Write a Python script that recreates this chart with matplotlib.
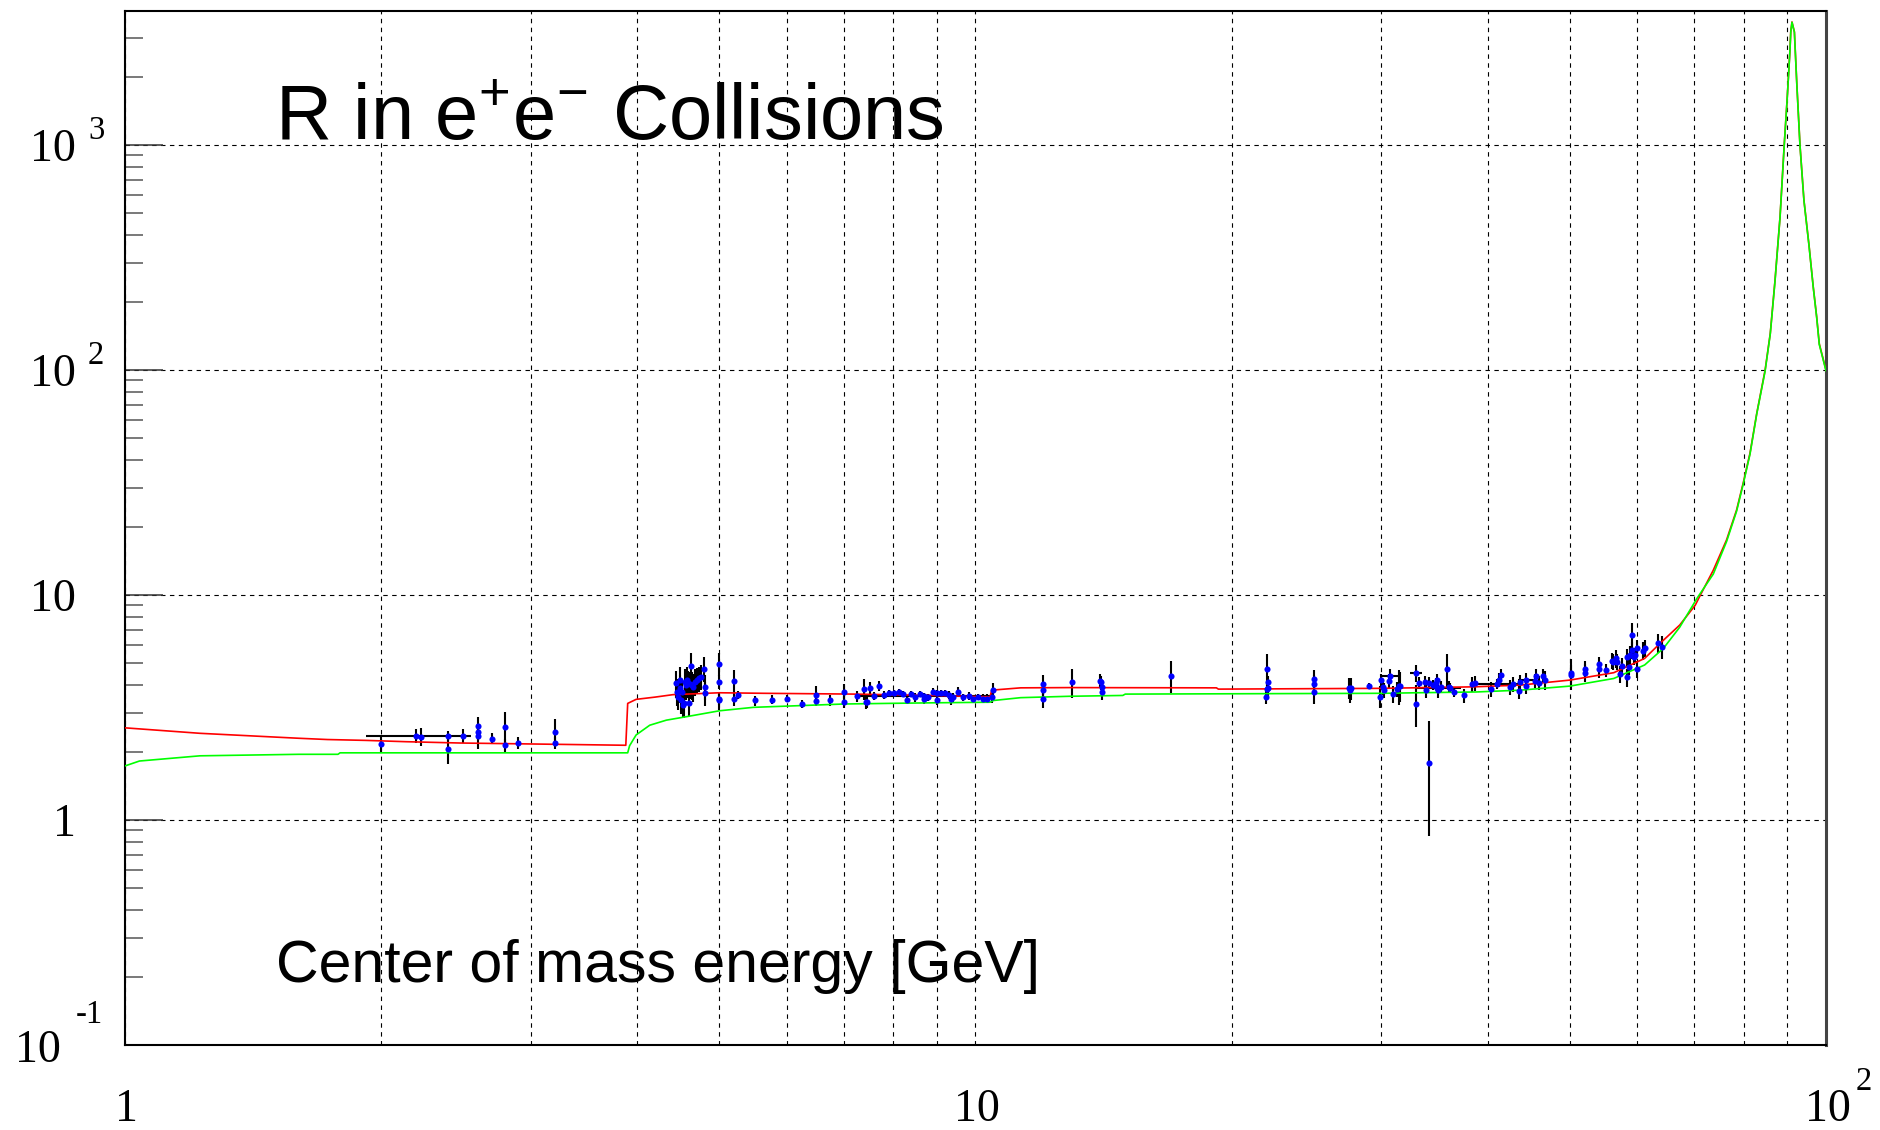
import matplotlib
matplotlib.use("Agg")
import matplotlib.pyplot as plt
from matplotlib.transforms import blended_transform_factory
from matplotlib.ticker import LogLocator, NullFormatter

# ---------------- data ----------------
# measured R values (energy GeV, R, error)
E_pts = [2.00, 2.23, 2.40, 2.40, 2.50, 2.60, 2.60, 2.60, 2.70, 2.80, 2.80, 2.90, 3.20, 3.20,
         4.44, 4.46, 4.47, 4.49, 4.49, 4.51, 4.52, 4.53, 4.54, 4.55, 4.57, 4.58, 4.59, 4.60,
         4.62, 4.63, 4.64, 4.66, 4.68, 4.70, 4.73, 4.76, 4.80, 4.81, 4.81,
         5.00, 5.00, 5.00, 5.00, 5.20, 5.20, 5.26, 5.51, 5.76, 6.00, 6.25, 6.50, 6.50, 6.75,
         7.00, 7.00, 7.25, 7.40, 7.43, 7.46, 7.51, 7.60, 7.71, 7.81, 7.92, 8.01, 8.12, 8.21,
         8.30, 8.40, 8.50, 8.60, 8.70, 8.80, 8.91, 9.00, 9.01, 9.11, 9.21, 9.31, 9.35, 9.40,
         9.53, 9.68, 9.82, 9.92, 10.08, 10.21, 10.31, 10.45, 10.49,
         12.0, 12.0, 12.0, 13.0, 14.0, 14.05, 14.07, 14.07, 17.0,
         22.0, 22.05, 22.05, 22.0, 21.95, 25.0, 25.0, 25.0, 27.5, 27.65, 27.6, 29.0, 29.9,
         30.0, 30.1, 30.2, 30.6, 31.0, 31.3, 31.5, 31.6, 33.0, 33.2, 33.8, 33.9, 34.1, 34.1,
         34.5, 34.8, 34.9, 35.0, 35.3, 35.8, 36.0, 36.1, 36.5, 37.5, 38.4, 38.7, 40.4, 41.3,
         41.5, 42.5, 42.9, 43.5, 43.7, 44.4, 45.5, 45.6, 46.0, 46.5, 46.7,
         50.1, 50.1, 52.1, 52.1, 54.1, 54.1, 55.1, 56.0, 56.2, 56.6, 56.8, 57.3, 57.5, 58.3,
         58.4, 58.6, 58.9, 59.1, 59.1, 59.4, 59.6, 60.0, 60.0, 60.9, 61.3, 63.5, 64.2]
R_pts = [2.18, 2.35, 2.37, 2.06, 2.37, 2.62, 2.46, 2.37, 2.30, 2.60, 2.15, 2.20, 2.46, 2.20,
         4.05, 3.72, 3.53, 3.85, 4.19, 3.42, 3.69, 3.24, 3.30, 4.12, 3.98, 4.19, 4.05, 3.30,
         4.01, 4.85, 3.98, 3.91, 4.12, 4.19, 4.26, 4.34, 4.69, 3.91, 3.66,
         4.95, 4.11, 3.45, 3.40, 4.16, 3.45, 3.59, 3.40, 3.43, 3.47, 3.28, 3.59, 3.37, 3.40,
         3.72, 3.35, 3.56, 3.82, 3.36, 3.36, 3.87, 3.56, 3.94, 3.59, 3.66, 3.68, 3.72, 3.63,
         3.42, 3.63, 3.51, 3.63, 3.44, 3.51, 3.72, 3.68, 3.40, 3.68, 3.66, 3.59, 3.44, 3.51,
         3.72, 3.51, 3.56, 3.45, 3.53, 3.47, 3.47, 3.51, 3.78,
         4.01, 3.78, 3.45, 4.09, 4.15, 4.09, 3.91, 3.72, 4.38,
         4.69, 4.09, 3.87, 3.82, 3.54, 4.23, 4.01, 3.72, 3.87, 3.85, 3.78, 3.95, 3.54,
         4.18, 3.91, 3.78, 4.15, 3.63, 3.81, 3.95, 3.95, 3.28, 4.06, 4.12, 3.78, 4.06, 1.80,
         3.98, 4.05, 4.19, 3.78, 3.91, 4.69, 3.91, 3.88, 3.72, 3.58, 4.01, 4.05, 3.82, 4.19,
         4.41, 3.89, 4.02, 3.74, 4.12, 3.94, 4.15, 4.37, 4.08, 4.38, 4.19,
         4.49, 4.41, 4.67, 4.52, 4.93, 4.67, 4.64, 5.11, 5.05, 5.23, 5.05, 4.46, 4.84, 5.28,
         4.31, 4.80, 5.41, 6.64, 5.69, 5.28, 5.41, 4.67, 5.83, 5.66, 5.83, 6.14, 5.89]
dR_pts = [0.20, 0.21, 0.13, 0.28, 0.16, 0.24, 0.20, 0.30, 0.13, 0.43, 0.14, 0.14, 0.34, 0.14,
          0.55, 0.50, 0.45, 0.55, 0.60, 0.45, 0.50, 0.40, 0.45, 0.55, 0.55, 0.60, 0.55, 0.40,
          0.55, 0.70, 0.55, 0.55, 0.55, 0.55, 0.55, 0.55, 0.60, 0.50, 0.45,
          0.60, 0.30, 0.20, 0.30, 0.50, 0.25, 0.15, 0.17, 0.15, 0.12, 0.12, 0.35, 0.15, 0.18,
          0.30, 0.20, 0.20, 0.40, 0.25, 0.20, 0.25, 0.15, 0.20, 0.15, 0.12, 0.12, 0.12, 0.12,
          0.15, 0.12, 0.15, 0.12, 0.15, 0.12, 0.15, 0.12, 0.15, 0.12, 0.12, 0.15, 0.20, 0.15,
          0.20, 0.12, 0.15, 0.12, 0.12, 0.15, 0.15, 0.20, 0.30,
          0.40, 0.30, 0.30, 0.60, 0.30, 0.30, 0.30, 0.30, 0.70,
          0.80, 0.30, 0.30, 0.30, 0.25, 0.40, 0.40, 0.45, 0.40, 0.45, 0.45, 0.10, 0.40,
          0.30, 0.30, 0.30, 0.30, 0.30, 0.30, 0.70, 0.60, 0.70, 0.25, 0.25, 0.30, 0.25, 0.95,
          0.20, 0.25, 0.25, 0.30, 0.25, 0.80, 0.25, 0.20, 0.20, 0.25, 0.30, 0.30, 0.30, 0.30,
          0.30, 0.30, 0.30, 0.30, 0.30, 0.30, 0.30, 0.30, 0.30, 0.30, 0.40,
          0.70, 0.50, 0.40, 0.40, 0.40, 0.40, 0.30, 0.40, 0.40, 0.50, 0.40, 0.40, 0.40, 0.50,
          0.40, 0.40, 0.50, 0.85, 0.50, 0.40, 0.40, 0.40, 0.50, 0.50, 0.50, 0.60, 0.70]

# points measured over a wide energy bin (horizontal error bars)
E_wide = [2.20, 8.70, 30.7, 33.0, 34.9, 41.0, 44.4]
R_wide = [2.37, 3.56, 4.38, 4.49, 3.88, 4.03, 4.19]
dR_wide = [0.16, 0.10, 0.30, 0.40, 0.15, 0.20, 0.30]
dE_lo_wide = [0.28, 1.45, 0.7, 0.6, 1.9, 2.5, 1.0]
dE_hi_wide = [0.35, 1.79, 0.8, 0.5, 2.3, 2.7, 1.2]

# theory curves (red: with QCD correction, green: naive quark model)
E_red = [1.0, 1.225, 1.6, 1.73, 1.92, 2.14, 2.48, 2.97, 3.55, 3.88, 3.90, 3.99, 4.2, 4.41,
         5.0, 5.63, 7.2, 8.9, 10.4, 10.45, 11.3, 12.9, 19.2, 19.3, 29.9, 38.5, 43.7, 50.0,
         56.3, 61.2, 63.8, 67.3, 70.2, 71.1, 73.7, 76.4, 78.5, 79.9, 81.4, 82.9, 84.8, 86.0,
         87.1, 88.3, 89.3, 90.0, 90.7, 90.9, 91.2, 91.8, 92.4, 93.2, 94.2, 95.5, 96.6, 97.5,
         98.2, 100.0]
R_red = [2.57, 2.43, 2.31, 2.28, 2.26, 2.23, 2.20, 2.18, 2.16, 2.15, 3.30, 3.44, 3.52, 3.61,
         3.68, 3.66, 3.63, 3.58, 3.53, 3.78, 3.87, 3.88, 3.87, 3.82, 3.85, 3.91, 3.98, 4.19,
         4.52, 5.23, 6.10, 7.36, 9.03, 9.93, 12.9, 17.6, 23.9, 31.4, 42.7, 64.2, 100.0, 146.0,
         250.0, 480.0, 1000.0, 1585.0, 2640.0, 3190.0, 3530.0, 3190.0, 1880.0, 1000.0, 570.0,
         360.0, 235.0, 173.0, 131.0, 100.0]
E_green = [1.0, 1.04, 1.225, 1.6, 1.78, 1.79, 3.9, 3.92, 3.99, 4.14, 4.33, 4.57, 5.0, 5.48,
           6.0, 7.0, 7.86, 8.9, 10.4, 10.5, 11.3, 12.9, 14.9, 15.0, 30.2, 33.0, 38.8, 43.7,
           50.0, 56.3, 61.2, 64.4, 67.3, 70.5, 73.7, 76.4, 78.5, 79.9, 81.4, 82.9, 84.8, 86.0,
           87.1, 88.3, 89.3, 90.0, 90.7, 90.9, 91.2, 91.8, 92.4, 93.2, 94.2, 95.5, 96.6, 97.5,
           98.2, 100.0]
R_green = [1.74, 1.83, 1.93, 1.96, 1.96, 1.99, 1.99, 2.14, 2.39, 2.64, 2.78, 2.88, 3.06, 3.17,
           3.21, 3.28, 3.30, 3.32, 3.34, 3.40, 3.50, 3.55, 3.58, 3.63, 3.66, 3.68, 3.71, 3.78,
           3.94, 4.26, 4.89, 5.8, 7.2, 9.66, 12.4, 17.3, 23.6, 31.0, 42.3, 63.8, 99.0, 145.0,
           248.0, 478.0, 995.0, 1580.0, 2630.0, 3180.0, 3520.0, 3180.0, 1870.0, 995.0, 568.0,
           358.0, 234.0, 172.0, 130.0, 99.5]

# axis tick labels
y_lab_vals = [0.1, 1, 10, 100, 1000]
y_lab_base = ["10", "1", "10", "10", "10"]
y_lab_exp = ["-1", "", "", "2", "3"]
x_lab_vals = [1, 10, 100]
x_lab_base = ["1", "10", "10"]
x_lab_exp = ["", "", "2"]

title_text = r"R in e$^{+}$e$^{-}$ Collisions"
xaxis_text = "Center of mass energy [GeV]"

# ---------------- figure ----------------
plt.rcParams["mathtext.fontset"] = "custom"
plt.rcParams["mathtext.rm"] = "Liberation Sans"
plt.rcParams["mathtext.it"] = "Liberation Sans:italic"
plt.rcParams["mathtext.bf"] = "Liberation Sans:bold"

W, H = 1881, 1130
fig = plt.figure(figsize=(W / 100, H / 100), dpi=100)
ax = fig.add_axes([125 / W, 85 / H, 1701 / W, 1034 / H])
ax.set_xscale("log")
ax.set_yscale("log")
ax.set_xlim(1, 100)
ax.set_ylim(0.1, 3950)

# grid
ax.xaxis.set_minor_locator(LogLocator(base=10, subs=range(2, 10), numticks=20))
ax.yaxis.set_minor_locator(LogLocator(base=10, subs=range(2, 10), numticks=20))
ax.xaxis.set_minor_formatter(NullFormatter())
ax.yaxis.set_minor_formatter(NullFormatter())
gstyle = dict(color="black", linestyle=(0, (4, 4)), linewidth=0.8)
ax.grid(True, which="both", axis="x", **gstyle)
ax.grid(True, which="major", axis="y", **gstyle)
ax.set_axisbelow(True)

ax.tick_params(axis="x", which="both", length=0, labelbottom=False)
ax.tick_params(axis="y", which="major", direction="in", length=27, width=1.1,
               left=True, right=False, labelleft=False, color="#333333")
ax.tick_params(axis="y", which="minor", direction="in", length=13, width=1.1,
               left=True, right=False, color="#555555")
for s in ax.spines.values():
    s.set_linewidth(1.5)
    s.set_color("black")
ax.spines["right"].set_color("#444444")
ax.spines["right"].set_linewidth(2.2)

# data error bars
ax.errorbar(E_pts, R_pts, yerr=dR_pts, fmt="none", ecolor="black",
            elinewidth=1.5, capsize=0, zorder=3)
ax.errorbar(E_wide, R_wide, yerr=dR_wide, xerr=[dE_lo_wide, dE_hi_wide], fmt="none",
            ecolor="black", elinewidth=1.5, capsize=0, zorder=3)

# theory curves
ax.plot(E_red, R_red, color="#ff0000", linewidth=1.2, zorder=4)
ax.plot(E_green, R_green, color="#00ff00", linewidth=1.2, zorder=4.5)

# markers
ax.plot(E_pts, R_pts, "o", color="#0000ff", markersize=4.4, markeredgewidth=0, zorder=5)
ax.plot(E_wide, R_wide, "o", color="#0000ff", markersize=4.4, markeredgewidth=0, zorder=5)

# y tick labels (ROOT-like)
ty = blended_transform_factory(ax.transAxes, ax.transData)
lab_font = dict(family="Liberation Serif", color="black")
for v, b, e in zip(y_lab_vals, y_lab_base, y_lab_exp):
    if v < 0.5:
        bx, by, ex, ey = -64, -17, -49, 22
    else:
        bx, by, ex, ey = -49, -16, -37, 6
    ax.annotate(b, xy=(0, v), xycoords=ty, xytext=(bx, by), textcoords="offset pixels",
                ha="right", va="baseline", fontsize=33, annotation_clip=False, **lab_font)
    if e:
        ax.annotate(e, xy=(0, v), xycoords=ty, xytext=(ex, ey), textcoords="offset pixels",
                    ha="left", va="baseline", fontsize=23.5, annotation_clip=False, **lab_font)

# x tick labels
tx = blended_transform_factory(ax.transData, ax.transAxes)
for v, b, e in zip(x_lab_vals, x_lab_base, x_lab_exp):
    dx = 2 if e else 1
    ax.annotate(b, xy=(v, 0), xycoords=tx, xytext=(dx, -76), textcoords="offset pixels",
                ha="center", va="baseline", fontsize=33, annotation_clip=False, **lab_font)
    if e:
        ax.annotate(e, xy=(v, 0), xycoords=tx, xytext=(30, -45), textcoords="offset pixels",
                    ha="left", va="baseline", fontsize=23.5, annotation_clip=False, **lab_font)

# texts
fig.text(275 / W, 1 - 140 / H, title_text, fontsize=56, family="Liberation Sans",
         va="baseline", ha="left")
fig.text(276 / W, 1 - 981.6 / H, xaxis_text, fontsize=42.5, family="Liberation Sans",
         va="baseline", ha="left")

fig.savefig("out.png", dpi=100, facecolor="white")
